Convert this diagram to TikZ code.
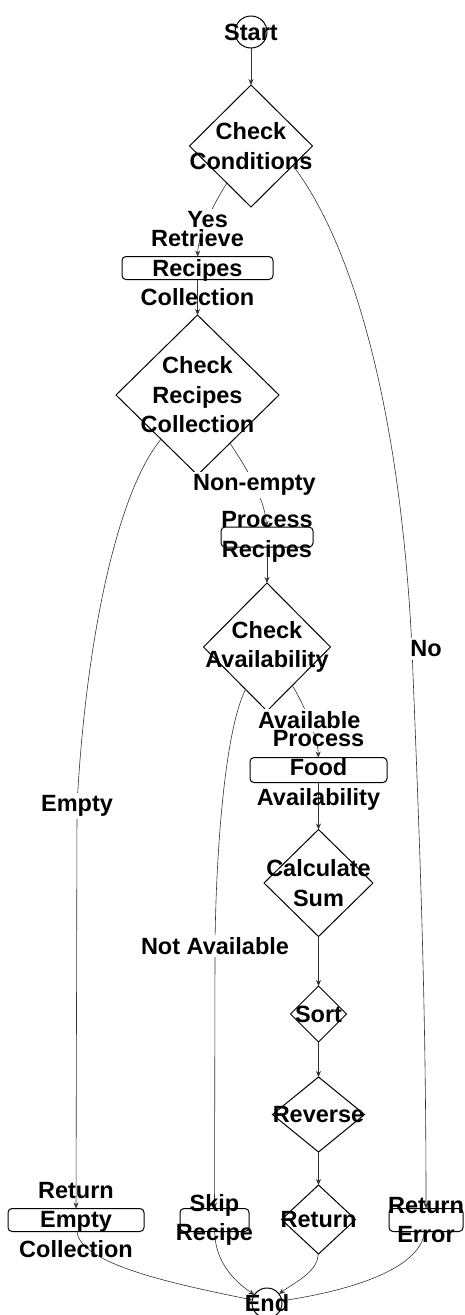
\documentclass[tikz,border=0pt]{standalone}
\usepackage{fontspec}
\setmainfont{Liberation Sans}
\usetikzlibrary{shapes.geometric,arrows.meta}
\begin{document}
\begin{tikzpicture}[x=1pt,y=-1pt,
  font=\fontsize{23.5}{29.5}\selectfont\bfseries,
  shapeline/.style={draw=black,line width=1pt,inner sep=0pt,outer sep=0pt},
  decision/.style 2 args={shapeline,diamond,minimum width=#1,minimum height=#2},
  stepbox/.style 2 args={shapeline,rectangle,rounded corners=4pt,minimum width=#1,minimum height=#2},
  terminal/.style={shapeline,circle,minimum size=#1},
  flow/.style={draw=black!80,line width=0.6pt,-{Stealth[length=6pt,width=5pt]}},
  edgelabel/.style={fill=white,inner sep=2.5pt,text=black},
  txt/.style={align=center,inner sep=0pt,text=black}]
\useasboundingbox (0,0) rectangle (464,1315);

% shapes
\node[terminal=32pt] (start) at (251,32) {};
\node[decision={123pt}{122pt}] (cc) at (251,146) {};
\node[stepbox={151pt}{23pt}] (rrc) at (197.5,268) {};
\node[decision={163pt}{160pt}] (crc) at (197.5,395) {};
\node[stepbox={92pt}{20pt}] (pr) at (267,537) {};
\node[decision={127pt}{128pt}] (ca) at (267,647) {};
\node[stepbox={137pt}{25pt}] (pfa) at (318.5,770) {};
\node[decision={109pt}{107pt}] (cs) at (318.5,883) {};
\node[decision={56pt}{56pt}] (sort) at (318.5,1014) {};
\node[decision={92pt}{75pt}] (rev) at (318.5,1114.5) {};
\node[decision={74pt}{69pt}] (ret) at (318.5,1219.5) {};
\node[stepbox={136pt}{23pt}] (rec) at (76,1220) {};
\node[stepbox={69pt}{23pt}] (sr) at (214.5,1220) {};
\node[stepbox={74pt}{23pt}] (re) at (426,1220) {};
\node[terminal=30pt] (end) at (267,1303) {};

% connectors
\draw[flow] (start) -- (cc);
\draw[flow] (cc) .. controls (214,203) and (198,235) .. node[edgelabel]{Yes} (rrc);
\draw[flow] (rrc) -- (crc);
\draw[flow] (crc) .. controls (248,470) and (265,500) .. node[edgelabel]{Non-empty} (pr);
\draw[flow] (pr) -- (ca);
\draw[flow] (ca) .. controls (303,702) and (318,738) .. node[edgelabel]{Available} (pfa);
\draw[flow] (pfa) -- (cs);
\draw[flow] (cs) -- (sort);
\draw[flow] (sort) -- (rev);
\draw[flow] (rev) -- (ret);
\draw[flow] (cc.-25) .. controls (350,240) and (400,400) .. (412,649)
  node[edgelabel,xshift=14pt]{No}
  .. controls (420,850) and (426,1000) .. (re);
\draw[flow] (crc) .. controls (115,495) and (85,650) .. (77,806)
  node[edgelabel]{Empty} -- (rec);
\draw[flow] (ca) .. controls (225,730) and (216,850) .. (215,946)
  node[edgelabel]{Not Available} -- (sr);
\draw[flow] (rec) .. controls (80,1265) and (180,1285) .. (end);
\draw[flow] (sr) .. controls (215,1262) and (235,1282) .. (end);
\draw[flow] (ret) .. controls (318,1272) and (295,1282) .. (end);
\draw[flow] (re) .. controls (420,1272) and (340,1292) .. (end);

% texts
\node[txt] (start-t) at (start) {Start};
\node[txt] (cc-t) at (cc) {Check\\Conditions};
\node[txt] (rrc-t) at (rrc) {Retrieve\\Recipes\\Collection};
\node[txt] (crc-t) at (crc) {Check\\Recipes\\Collection};
\node[txt] (pr-t) at (pr) {Process\\Recipes};
\node[txt] (ca-t) at (ca) {Check\\Availability};
\node[txt] (pfa-t) at (pfa) {Process\\Food\\Availability};
\node[txt] (cs-t) at (cs) {Calculate\\Sum};
\node[txt] (sort-t) at (sort) {Sort};
\node[txt] (rev-t) at (rev) {Reverse};
\node[txt] (ret-t) at (ret) {Return};
\node[txt] (rec-t) at (rec) {Return\\Empty\\Collection};
\node[txt] (sr-t) at (sr) {Skip\\Recipe};
\node[txt] (re-t) at (re) {Return\\Error};
\node[txt] (end-t) at (end) {End};
\end{tikzpicture}
\end{document}
